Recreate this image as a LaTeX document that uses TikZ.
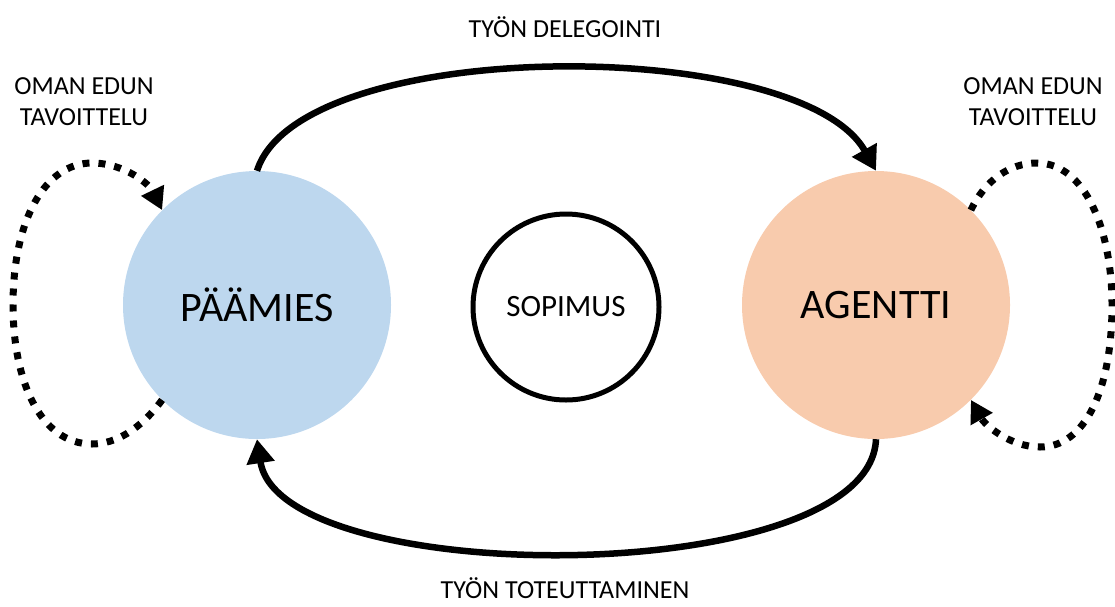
\documentclass[tikz,border=0pt]{standalone}
\usepackage{fontspec}
\setmainfont{Carlito}
\usetikzlibrary{arrows.meta}
\definecolor{principal}{RGB}{189,215,238}
\definecolor{agentfill}{RGB}{248,203,173}
\tikzset{
  party/.style={circle, minimum size=268pt, inner sep=0pt, font=\fontsize{42}{50}\selectfont},
  contract/.style={circle, draw=black, line width=5pt, minimum size=186pt, inner sep=0pt, font=\fontsize{31}{37}\selectfont},
  flowlabel/.style={font=\fontsize{26}{31}\selectfont, align=center, inner sep=0pt},
  flow/.style={line width=6.5pt, -{Triangle[length=24pt,width=27pt]}},
  selfloop/.style={line width=7pt, dash pattern=on 7pt off 9pt, -{Triangle[length=22pt,width=24pt]}}
}
\begin{document}
\begin{tikzpicture}[x=1pt, y=-1pt]
  \useasboundingbox (0,0) rectangle (1115,606);

  % parties and contract
  \node[party, fill=principal] (pm) at (257,305) {PÄÄMIES};
  \node[party, fill=agentfill] (ag) at (876,305) {AGENTTI};
  \node[contract] (sop) at (566,307) {SOPIMUS};

  % labels
  \node[flowlabel, anchor=base] (deleg) at (565,37) {TYÖN DELEGOINTI};
  \node[flowlabel, anchor=base] (toteut) at (565,598) {TYÖN TOTEUTTAMINEN};
  \node[flowlabel] (omaL) at (84,102) {OMAN EDUN\\TAVOITTELU};
  \node[flowlabel] (omaR) at (1033,102) {OMAN EDUN\\TAVOITTELU};

  % delegation and execution of the work
  \draw[flow] (pm.north) .. controls (300,35) and (800,35) .. (ag.north);
  \draw[flow] (ag.south) .. controls (870,590) and (280,590) .. (pm.south);

  % self-interest loops
  \draw[selfloop] (pm.225) .. controls (140,430) and (115,444) .. (92,444)
    .. controls (40,444) and (13,380) .. (13,305)
    .. controls (13,220) and (45,163) .. (92,163)
    .. controls (125,163) and (150,185) .. (pm.135);
  \draw[selfloop] (ag.45) .. controls (985,180) and (1010,163) .. (1037,163)
    .. controls (1085,163) and (1112,230) .. (1112,305)
    .. controls (1112,390) and (1085,447) .. (1040,447)
    .. controls (1010,447) and (985,425) .. (ag.-45);
\end{tikzpicture}
\end{document}
